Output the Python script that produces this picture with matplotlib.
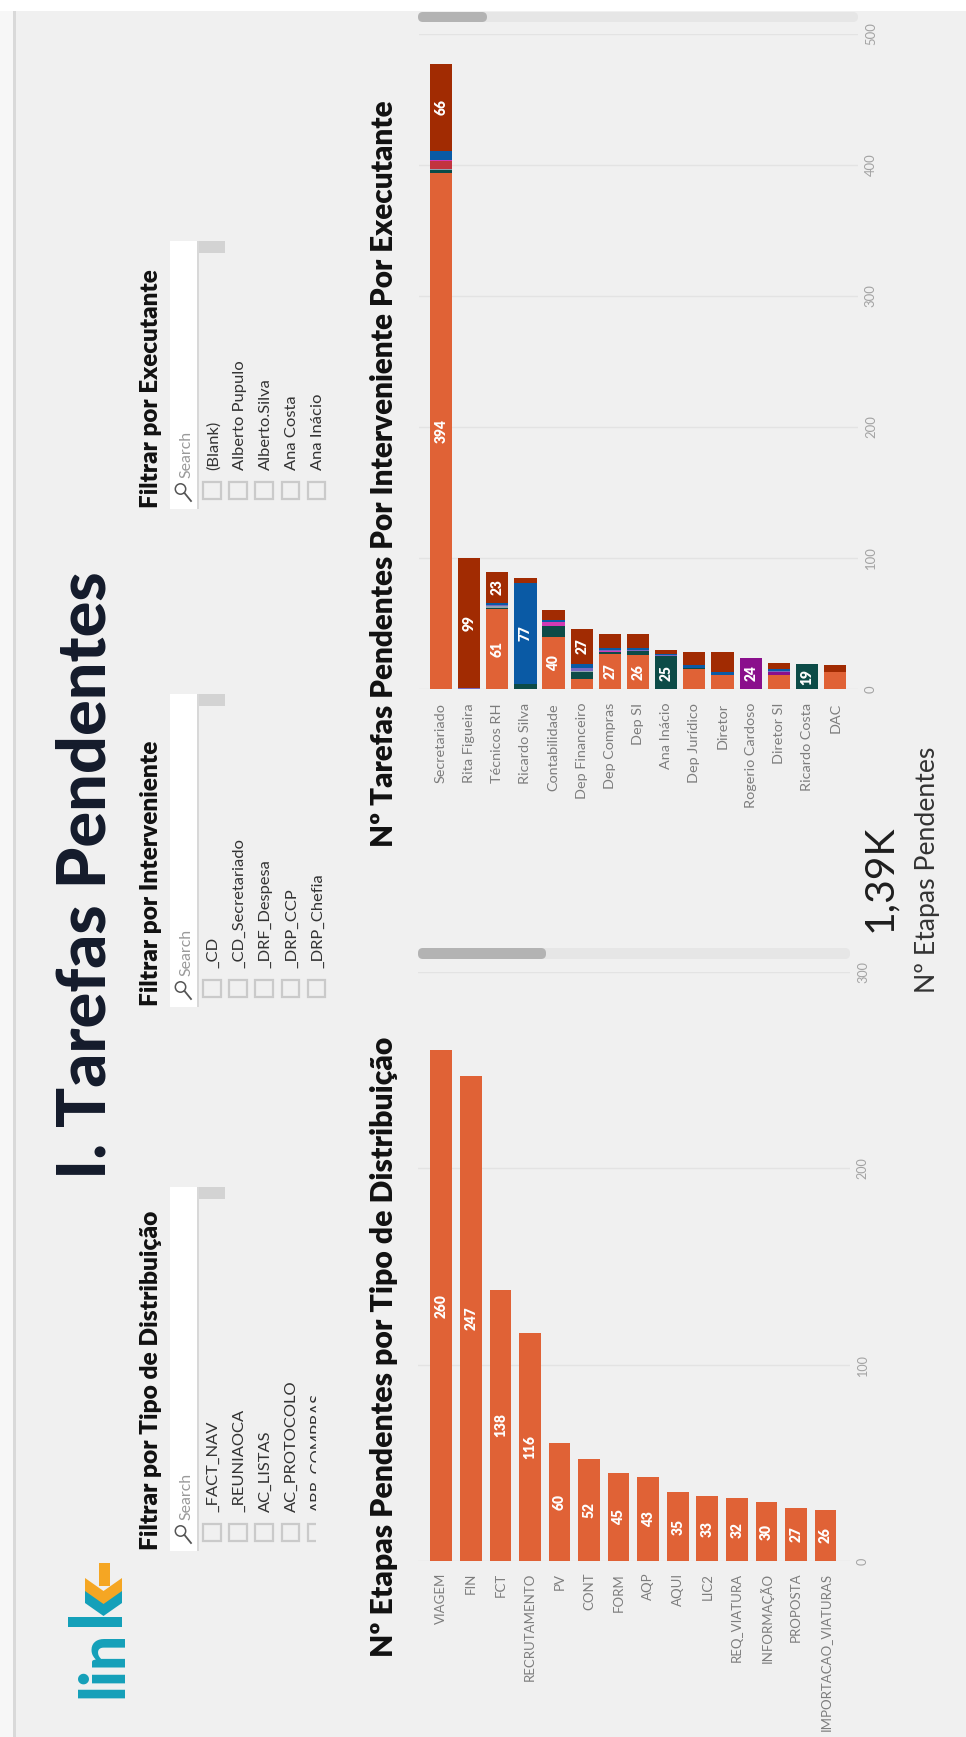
import numpy as np
import matplotlib
matplotlib.use("Agg")
import matplotlib.pyplot as plt
from matplotlib.patches import Rectangle, FancyBboxPatch, Polygon, Circle
from matplotlib.transforms import IdentityTransform
from matplotlib.lines import Line2D

# ------------------------------------------------------------------ data
tipo_categorias = ["VIAGEM", "FIN", "FCT", "RECRUTAMENTO", "PV", "CONT", "FORM",
                   "AQP", "AQUI", "LIC2", "REQ_VIATURA", "INFORMAÇÃO", "PROPOSTA",
                   "IMPORTACAO_VIATURAS"]
tipo_valores = [260, 247, 138, 116, 60, 52, 45, 43, 35, 33, 32, 30, 27, 26]
tipo_ticks = [0, 100, 200, 300]

interv_categorias = ["Secretariado", "Rita Figueira", "Técnicos RH", "Ricardo Silva",
                     "Contabilidade", "Dep Financeiro", "Dep Compras", "Dep SI",
                     "Ana Inácio", "Dep Jurídico", "Diretor", "Rogerio Cardoso",
                     "Diretor SI", "Ricardo Costa", "DAC"]
exec_laranja  = [394, 0, 61, 0, 40, 8, 27, 26, 0, 15, 11, 0, 11, 0, 13]
exec_verde    = [2, 0, 1, 4, 8, 5, 1, 3, 25, 1, 0, 0, 0, 19, 0]
exec_cinza    = [1, 0, 1, 0, 0, 1, 0, 0, 0, 0, 0, 0, 0, 0, 0]
exec_vermelho = [6, 0, 0, 0, 0, 0, 0, 0, 0, 0, 0, 0, 0, 0, 0]
exec_rosa     = [1, 0, 0, 0, 3, 0, 1, 0, 0, 0, 0, 0, 0, 0, 0]
exec_roxo     = [0, 0, 0, 0, 0, 0, 0, 0, 0, 0, 0, 24, 2, 0, 0]
exec_lilas    = [0, 1, 1, 0, 0, 2, 1, 1, 1, 0, 0, 0, 1, 0, 0]
exec_azul     = [7, 0, 2, 77, 2, 3, 1, 1, 1, 2, 2, 0, 1, 0, 0]
exec_bordo    = [66, 99, 23, 4, 7, 27, 11, 11, 3, 10, 15, 0, 5, 0, 5]
interv_ticks = [0, 100, 200, 300, 400, 500]

kpi_valor = "1,39K"
kpi_rotulo = "Nº Etapas Pendentes"

titulo = "I. Tarefas Pendentes"
titulo_tipo = "Nº Etapas Pendentes por Tipo de Distribuição"
titulo_interv = "Nº Tarefas Pendentes Por Interveniente Por Executante"

slicer_titulos = ["Filtrar por Tipo de Distribuição", "Filtrar por Interveniente",
                  "Filtrar por Executante"]
slicer_itens_tipo = ["_FACT_NAV", "_REUNIAOCA", "AC_LISTAS", "AC_PROTOCOLO", "ABR_COMPRAS"]
slicer_itens_interv = ["_CD", "_CD_Secretariado", "_DRF_Despesa", "_DRP_CCP", "_DRP_Chefia"]
slicer_itens_exec = ["(Blank)", "Alberto Pupulo", "Alberto.Silva", "Ana Costa", "Ana Inácio"]

# ------------------------------------------------------------------ style
W, H, DPI = 966, 1737, 100
BG = "#f0f0f0"
FONT = "Lato"
plt.rcParams["font.family"] = [FONT, "DejaVu Sans"]

C_LARANJA = "#e06236"
seg_cores = ["#e06236", "#0c4b47", "#8fa3b3", "#c2343f", "#d23ab4",
             "#8a0f8c", "#7668c0", "#0a5aa5", "#a12b02"]
segmentos = [exec_laranja, exec_verde, exec_cinza, exec_vermelho, exec_rosa,
             exec_roxo, exec_lilas, exec_azul, exec_bordo]

fig = plt.figure(figsize=(W / DPI, H / DPI), dpi=DPI, facecolor=BG)
R = fig.canvas.get_renderer()
ID = IdentityTransform()


def fx(x):
    return x / W


def fy(y):
    return 1 - y / H


def prect(x0, y0, x1, y1, **kw):
    p = Rectangle((x0, H - y1), x1 - x0, y1 - y0, transform=ID, **kw)
    fig.add_artist(p)
    return p


def pround(x0, y0, x1, y1, r, **kw):
    p = FancyBboxPatch((x0 + r, H - y1 + r), x1 - x0 - 2 * r, y1 - y0 - 2 * r,
                       boxstyle=f"round,pad={r}", transform=ID, lw=0, **kw)
    fig.add_artist(p)
    return p


def fit(t, length):
    s = t.get_fontsize()
    h = t.get_window_extent(R).height
    t.set_fontsize(s * length / h)
    return t.get_fontsize()


def rtext(xb, ystart, s, length=None, size=10, **kw):
    t = fig.text(fx(xb), fy(ystart), s, rotation=90, rotation_mode="anchor",
                 ha="left", va="baseline", fontsize=size, **kw)
    if length:
        fit(t, length)
    return t


# ------------------------------------------------------------------ frame
prect(0, 0, W, 11, color="white", lw=0)
prect(0, 11, 13, H, color="#f7f7f7", lw=0)
prect(13, 11, 16, H, color="#d9d9d9", lw=0)

# ------------------------------------------------------------------ header
rtext(105, 1179, titulo, 605, fontweight="black", color="#141b2b")

# logo
TEAL, ORANGE = "#14a0b9", "#f5a623"
rtext(122, 1698, "lin", 68, fontweight="black", color=TEAL)
prect(68, 1617, 122, 1627, color=TEAL, lw=0)
fig.add_artist(Polygon([(85, H - 1590), (103.5, H - 1603), (122, H - 1590),
                        (122, H - 1603), (103.5, H - 1616), (85, H - 1603)],
                       closed=True, transform=ID, color=TEAL, lw=0))
fig.add_artist(Polygon([(85, H - 1578), (103.5, H - 1591), (122, H - 1578),
                        (122, H - 1591), (103.5, H - 1604), (85, H - 1591)],
                       closed=True, transform=ID, color=ORANGE, lw=0))
prect(98.5, 1563, 109.5, 1586, color=ORANGE, lw=0)

# ------------------------------------------------------------------ slicers
slicers = [
    (slicer_titulos[0], slicer_itens_tipo, 1187, 1551, 341, 316),
    (slicer_titulos[1], slicer_itens_interv, 694, 1007, 267, None),
    (slicer_titulos[2], slicer_itens_exec, 241, 509, 239, None),
]
item_size = None
for tt, itens, ytop, ybot, tlen, clipx in slicers:
    rtext(158, ybot - 1, tt, tlen, fontweight="heavy", color="#111111")
    prect(170, ytop, 197, ybot, color="white", lw=0)
    prect(197, ytop, 199, ybot, color="#d8d8d8", lw=0)
    prect(199, ytop, 225, ytop + 12, color="#d3d3d3", lw=0)
    # magnifier
    fig.add_artist(Circle((180.5, H - (ybot - 20)), 5.2, transform=ID,
                          fill=False, ec="#555555", lw=1.1))
    fig.add_artist(Line2D([184.5, 191], [H - (ybot - 16), H - (ybot - 8)],
                          transform=ID, color="#555555", lw=1.3))
    rtext(190, ybot - 31, "Search", 47, color="#9a9a9a")
    for k, it in enumerate(itens):
        xc = 203 + 26.2 * k
        box = prect(xc, ybot - 27, xc + 17.5, ybot - 10, fill=False,
                    ec="#cacaca", lw=1.6)
        t = rtext(xc + 14.5, ybot - 39, it, None, 10, color="#333333")
        if item_size is None and it == "AC_PROTOCOLO":
            item_size = fit(t, 131)
        if clipx is not None:
            clip = Rectangle((0, 0), clipx, H, transform=ID)
            t.set_clip_path(clip)
            box.set_clip_path(clip)
for t in fig.texts:
    if t.get_text() in slicer_itens_tipo + slicer_itens_interv + slicer_itens_exec:
        t.set_fontsize(item_size)

# ------------------------------------------------------------------ chart titles
rtext(393, 1657, titulo_tipo, 620, fontweight="heavy", color="#111111")
rtext(393, 847, titulo_interv, 749, fontweight="heavy", color="#111111")

# ------------------------------------------------------------------ KPI card
rtext(891, 932, kpi_valor, 107, color="#1e1e1e")
rtext(935, 993, kpi_rotulo, 246, color="#333333")

# ------------------------------------------------------------------ scrollbars
pround(418, 948, 850, 959, 5, color="#e6e6e6")
pround(418, 948, 546, 959, 5, color="#b3b3b3")
pround(418, 12, 858, 22, 5, color="#e6e6e6")
pround(418, 12, 487, 22, 5, color="#b3b3b3")


# ------------------------------------------------------------------ axes helper
def style_axes(ax, ticks, pad_x):
    ax.set_facecolor("none")
    for sp in ax.spines.values():
        sp.set_visible(False)
    ax.yaxis.tick_right()
    ax.set_yticks(ticks)
    ax.grid(axis="y", color="#e3e3e3", lw=1.0)
    ax.set_axisbelow(True)
    ax.tick_params(axis="both", length=0)
    ax.tick_params(axis="x", pad=pad_x, labelcolor="#7d7d7d", labelrotation=90)
    ax.tick_params(axis="y", pad=5, labelcolor="#a3a3a3", labelrotation=90)
    for t in ax.get_yticklabels():
        t.set_va("center")


# bottom chart: Tipo de Distribuição
ax1 = fig.add_axes([fx(418), fy(1561), (850 - 418) / W, (1561 - 971.7) / H])
x1 = np.arange(len(tipo_categorias))
b1 = ax1.bar(x1, tipo_valores, width=0.735, color=C_LARANJA, lw=0)
ax1.set_xlim(-0.79, len(tipo_categorias) - 1 + 0.83)
ax1.set_ylim(0, 300)
ax1.set_xticks(x1, tipo_categorias)
style_axes(ax1, tipo_ticks, 8.5)
lab1 = ax1.bar_label(b1, label_type="center", rotation=90, color="white",
                     fontweight="heavy", fontsize=9)

# top chart: Interveniente por Executante
ax2 = fig.add_axes([fx(418.5), fy(689), (858 - 418.5) / W, (689 - 34) / H])
x2 = np.arange(len(interv_categorias))
base = np.zeros(len(interv_categorias))
lab2 = []
for vals, cor in zip(segmentos, seg_cores):
    v = np.array(vals, dtype=float)
    bc = ax2.bar(x2, v, bottom=base, width=0.79, color=cor, lw=0)
    labels = [f"{int(a)}" if a >= 19 else "" for a in v]
    lab2 += ax2.bar_label(bc, labels=labels, label_type="center", rotation=90,
                          color="white", fontweight="heavy", fontsize=9)
    base += v
ax2.set_xlim(-0.795, len(interv_categorias) - 1 + 0.81)
ax2.set_ylim(0, 500)
ax2.set_xticks(x2, interv_categorias)
style_axes(ax2, interv_ticks, 10)

# ------------------------------------------------------------------ fit tick fonts
fig.canvas.draw()
R = fig.canvas.get_renderer()


def fit_ticklabels(ax, axis, target_text, length, base_size):
    labs = ax.get_xticklabels() if axis == "x" else ax.get_yticklabels()
    for t in labs:
        if t.get_text() == target_text:
            t.set_fontsize(base_size)
            h = t.get_window_extent(R).height
            return base_size * length / h
    return base_size


s1x = fit_ticklabels(ax1, "x", "IMPORTACAO_VIATURAS", 158, 9)
s2x = fit_ticklabels(ax2, "x", "Rogerio Cardoso", 105, 9)
s1y = fit_ticklabels(ax1, "y", "300", 22, 8)
s2y = fit_ticklabels(ax2, "y", "500", 23, 8)
ax1.tick_params(axis="x", labelsize=s1x)
ax2.tick_params(axis="x", labelsize=s2x)
ax1.tick_params(axis="y", labelsize=s1y)
ax2.tick_params(axis="y", labelsize=s2y)

bl = [t for t in lab1 if t.get_text() == "260"][0]
bsize = fit(bl, 24)
for t in list(lab1) + list(lab2):
    t.set_fontsize(bsize)

fig.savefig("out.png", dpi=DPI, facecolor=BG)
